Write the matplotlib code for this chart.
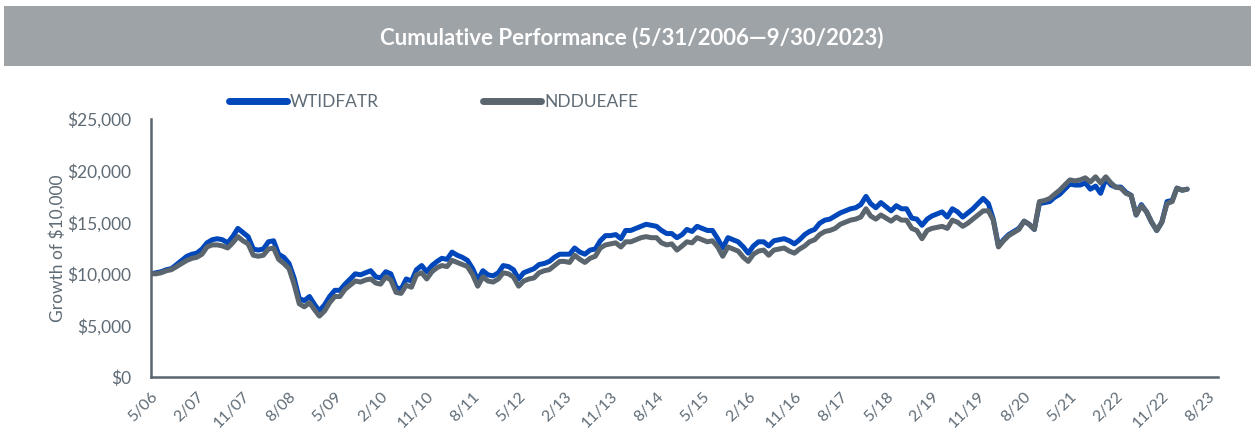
import numpy as np
import pandas as pd
import matplotlib
matplotlib.use("Agg")
import matplotlib.pyplot as plt
from matplotlib.patches import Rectangle
from matplotlib.ticker import FuncFormatter

# month-end growth of $10,000, starting 5/31/2006 (values in thousands)
wtidfatr = [
    10.0, 10.1, 10.2, 10.4, 10.5, 10.9, 11.3, 11.7, 11.9, 12.0,
    12.4, 13.0, 13.3, 13.4, 13.3, 13.0, 13.6, 14.4, 14.0, 13.6,
    12.4, 12.3, 12.4, 13.1, 13.2, 11.9, 11.6, 11.0, 9.6, 7.6,
    7.4, 7.8, 7.0, 6.4, 7.0, 7.8, 8.4, 8.4, 9.0, 9.5,
    10.0, 9.9, 10.1, 10.3, 9.7, 9.6, 10.2, 10.0, 8.7, 8.5,
    9.5, 9.3, 10.4, 10.8, 10.2, 10.8, 11.2, 11.5, 11.4, 12.1,
    11.8, 11.6, 11.3, 10.5, 9.4, 10.3, 9.9, 9.8, 10.1, 10.8,
    10.7, 10.4, 9.5, 10.1, 10.3, 10.5, 10.9, 11.0, 11.2, 11.6,
    11.9, 11.9, 11.9, 12.5, 12.1, 11.9, 12.3, 12.4, 13.2, 13.7,
    13.7, 13.8, 13.4, 14.2, 14.2, 14.4, 14.6, 14.8, 14.7, 14.6,
    14.2, 13.9, 13.9, 13.5, 13.8, 14.3, 14.1, 14.6, 14.4, 14.2,
    14.2, 13.4, 12.5, 13.5, 13.3, 13.1, 12.6, 12.0, 12.7, 13.1,
    13.1, 12.7, 13.2, 13.3, 13.4, 13.2, 12.9, 13.3, 13.8, 14.1,
    14.3, 14.9, 15.2, 15.3, 15.6, 15.9, 16.1, 16.3, 16.4, 16.7,
    17.5, 16.8, 16.4, 16.9, 16.5, 16.1, 16.6, 16.3, 16.3, 15.4,
    15.3, 14.7, 15.3, 15.6, 15.8, 16.0, 15.5, 16.3, 16.0, 15.5,
    15.9, 16.3, 16.8, 17.3, 16.8, 15.3, 12.7, 13.3, 13.8, 14.1,
    14.4, 15.1, 14.8, 14.3, 16.8, 16.9, 17.0, 17.4, 17.7, 18.2,
    18.7, 18.6, 18.6, 18.8, 18.2, 18.5, 17.8, 19.2, 18.6, 18.4,
    18.4, 17.9, 17.6, 15.7, 16.7, 16.0, 15.0, 14.2, 15.0, 17.0,
    17.1, 18.3, 18.1, 18.2,
]
ndduefe = [
    10.0, 10.0, 10.1, 10.3, 10.4, 10.7, 11.0, 11.3, 11.5, 11.6,
    11.9, 12.6, 12.8, 12.8, 12.7, 12.5, 13.0, 13.6, 13.2, 12.9,
    11.8, 11.7, 11.8, 12.4, 12.5, 11.4, 11.0, 10.5, 9.0, 7.1,
    6.8, 7.2, 6.5, 5.9, 6.4, 7.2, 7.8, 7.8, 8.5, 8.9,
    9.3, 9.2, 9.4, 9.5, 9.1, 9.0, 9.7, 9.4, 8.2, 8.1,
    8.9, 8.7, 9.9, 10.1, 9.5, 10.2, 10.6, 10.8, 10.7, 11.3,
    11.1, 10.9, 10.7, 9.9, 8.8, 9.7, 9.3, 9.2, 9.5, 10.1,
    10.0, 9.7, 8.8, 9.3, 9.5, 9.6, 10.1, 10.3, 10.4, 10.8,
    11.2, 11.2, 11.1, 11.8, 11.4, 11.1, 11.5, 11.7, 12.5, 12.8,
    12.9, 13.0, 12.6, 13.1, 13.1, 13.3, 13.5, 13.6, 13.5, 13.5,
    13.0, 12.8, 12.9, 12.3, 12.7, 13.1, 13.0, 13.5, 13.3, 13.1,
    13.2, 12.6, 11.7, 12.6, 12.4, 12.2, 11.6, 11.2, 11.9, 12.2,
    12.3, 11.8, 12.3, 12.4, 12.5, 12.2, 12.0, 12.4, 12.7, 13.1,
    13.3, 13.8, 14.1, 14.2, 14.4, 14.8, 15.0, 15.2, 15.3, 15.5,
    16.3, 15.6, 15.3, 15.7, 15.4, 15.1, 15.5, 15.2, 15.2, 14.4,
    14.2, 13.4, 14.2, 14.4, 14.5, 14.6, 14.4, 15.2, 15.0, 14.6,
    14.9, 15.3, 15.7, 16.1, 16.1, 15.2, 12.6, 13.2, 13.7, 14.0,
    14.3, 15.1, 14.8, 14.3, 17.0, 17.1, 17.3, 17.7, 18.1, 18.6,
    19.1, 19.0, 19.1, 19.3, 18.9, 19.4, 18.8, 19.4, 18.8, 18.4,
    18.3, 17.8, 17.6, 15.7, 16.6, 16.0, 15.0, 14.2, 15.0, 16.8,
    17.0, 18.3, 18.1, 18.2,
]
series_names = ["WTIDFATR", "NDDUEAFE"]
title = "Cumulative Performance (5/31/2006\u20149/30/2023)"

dates = pd.date_range("2006-05-31", periods=len(wtidfatr), freq="ME")
tick_dates = pd.date_range("2006-05-31", "2023-08-31", freq="9ME")

BLUE = "#0047bb"
GRAY = "#5b656e"
TEXT = "#5f6b75"

plt.rcParams["font.family"] = ["Lato", "DejaVu Sans"]

fig = plt.figure(figsize=(12.51, 4.32), dpi=100)

# header band
fig.patches.append(Rectangle((0.003, 1 - 66 / 432), 0.997, 60 / 432,
                             transform=fig.transFigure, facecolor="#9ea3a8",
                             edgecolor="none", zorder=0))
fig.text(0.505, 1 - 38 / 432, title, ha="center", va="center",
         color="white", fontsize=16, fontweight="bold")

ax = fig.add_axes([151 / 1251, 55 / 432, 1067 / 1251, 258 / 432])
ax.plot(dates, np.array(wtidfatr) * 1000, color=BLUE, lw=3.6,
        solid_joinstyle="round", solid_capstyle="round", label=series_names[0])
ax.plot(dates, np.array(ndduefe) * 1000, color=GRAY, lw=3.6,
        solid_joinstyle="round", solid_capstyle="round", label=series_names[1])

ax.set_ylim(0, 25000)
ax.set_yticks(np.arange(0, 25001, 5000))
ax.yaxis.set_major_formatter(FuncFormatter(lambda v, p: f"${v:,.0f}"))
ax.set_xlim(dates[0], pd.Timestamp("2023-10-31"))
ax.set_xticks(tick_dates)
ax.set_xticklabels([f"{d.month}/{d.strftime('%y')}" for d in tick_dates],
                   rotation=45, ha="right", rotation_mode="anchor")

for s in ["top", "right"]:
    ax.spines[s].set_visible(False)
for s in ["left", "bottom"]:
    ax.spines[s].set_color(GRAY)
    ax.spines[s].set_linewidth(1.8)
ax.tick_params(axis="y", length=0, labelsize=12.5, colors=TEXT, pad=14)
ax.tick_params(axis="x", length=0, labelsize=11.5, colors=TEXT, pad=9)
ax.set_ylabel("Growth of $10,000", fontsize=12.5, color=TEXT, labelpad=1)

leg = ax.legend(ncol=2, loc="center", bbox_to_anchor=(0.265, 1.066),
                frameon=False, fontsize=12.5, handlelength=3.3,
                handletextpad=0.2, columnspacing=6.0)
for t in leg.get_texts():
    t.set_color(TEXT)
for h in leg.get_lines():
    h.set_linewidth(5)

fig.savefig("out.png", dpi=100)
